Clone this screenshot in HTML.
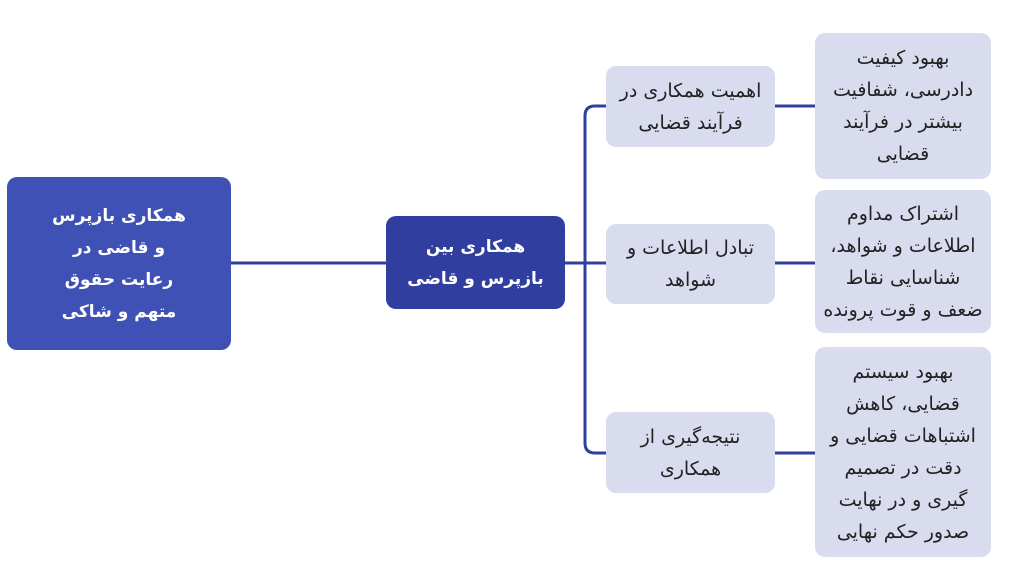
<!DOCTYPE html>
<html><head><meta charset="utf-8"><style>
body{margin:0;width:1024px;height:580px;background:#fff;position:relative;overflow:hidden;font-family:"DejaVu Sans","Liberation Sans",sans-serif;}
.b{position:absolute;border-radius:10px;display:flex;align-items:center;justify-content:center;text-align:center;direction:rtl;font-size:19px;line-height:32px;}
.d1{background:#3f51b5;color:#fff;font-weight:bold;font-size:17px;}
.d2{background:#303f9f;color:#fff;font-weight:bold;font-size:17px;}
.l{background:#d9dcee;color:#222;}
svg{position:absolute;left:0;top:0;}
</style></head><body>
<svg width="1024" height="580"><g fill="none" stroke="#303f9f" stroke-width="3">
<line x1="231" y1="263" x2="386" y2="263"/>
<line x1="565" y1="263" x2="606" y2="263"/>
<path d="M606 106 H595 Q585 106 585 116 V443 Q585 453 595 453 H606"/>
<line x1="775" y1="106" x2="815" y2="106"/>
<line x1="775" y1="263" x2="815" y2="263"/>
<line x1="775" y1="453" x2="815" y2="453"/>
</g></svg>
<div class="b d1" style="left:7px;top:177px;width:224px;height:173px">همکاری بازپرس<br>و قاضی در<br>رعایت حقوق<br>متهم و شاکی</div>
<div class="b d2" style="left:386px;top:216px;width:179px;height:93px">همکاری بین<br>بازپرس و قاضی</div>
<div class="b l" style="left:606px;top:66px;width:169px;height:81px">اهمیت همکاری در<br>فرآیند قضایی</div>
<div class="b l" style="left:606px;top:224px;width:169px;height:80px">تبادل اطلاعات و<br>شواهد</div>
<div class="b l" style="left:606px;top:412px;width:169px;height:81px">نتیجه‌گیری از<br>همکاری</div>
<div class="b l" style="left:815px;top:33px;width:176px;height:146px">بهبود کیفیت<br>دادرسی، شفافیت<br>بیشتر در فرآیند<br>قضایی</div>
<div class="b l" style="left:815px;top:190px;width:176px;height:143px">اشتراک مداوم<br>اطلاعات و شواهد،<br>شناسایی نقاط<br>ضعف و قوت پرونده</div>
<div class="b l" style="left:815px;top:347px;width:176px;height:210px">بهبود سیستم<br>قضایی، کاهش<br>اشتباهات قضایی و<br>دقت در تصمیم<br>گیری و در نهایت<br>صدور حکم نهایی</div>
</body></html>
